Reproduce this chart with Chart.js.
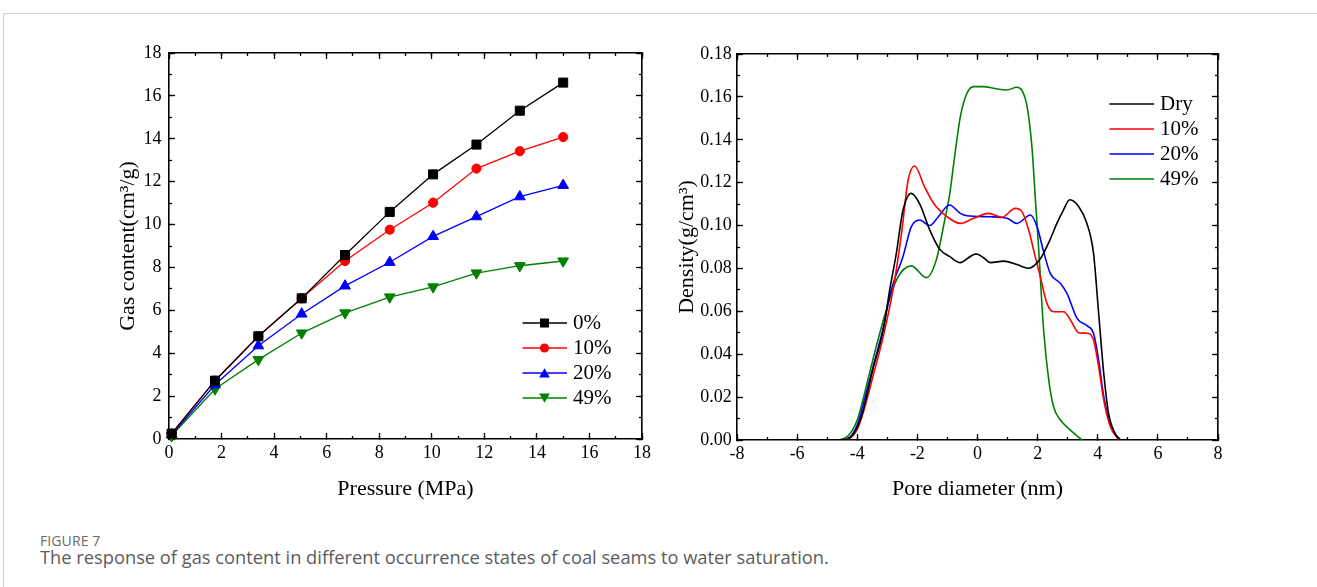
<!DOCTYPE html>
<html>
<head>
<meta charset="utf-8">
<script src="https://cdn.jsdelivr.net/npm/chart.js@4.4.1/dist/chart.umd.min.js"></script>
<style>
html,body{margin:0;padding:0;background:#fff;}
body{width:1317px;height:587px;overflow:hidden;position:relative;}
#frame{position:absolute;left:3px;top:13px;width:1320px;height:600px;border-top:1px solid #d0d0d0;border-left:1px solid #d0d0d0;}
#c1{position:absolute;left:0;top:0;}
#c2{position:absolute;left:660px;top:0;}
#fig{position:absolute;left:40px;top:533px;font-family:"Open Sans",sans-serif;font-size:14px;line-height:16px;color:#6a6a6a;letter-spacing:0.1px;}
#cap{position:absolute;left:40px;top:546px;font-family:"Open Sans",sans-serif;font-size:18.3px;line-height:22px;color:#5c5c5c;}
</style>
</head>
<body>
<div id="frame"></div>
<canvas id="c1" width="660" height="520"></canvas>
<canvas id="c2" width="657" height="520"></canvas>
<div id="fig">FIGURE 7</div>
<div id="cap">The response of gas content in different occurrence states of coal seams to water saturation.</div>
<script>
// ---------- Left chart data ----------
const pressure = [0.1, 1.75, 3.4, 5.05, 6.7, 8.4, 10.05, 11.7, 13.35, 15.0];
const gas0  = [0.25, 2.72, 4.79, 6.56, 8.58, 10.59, 12.34, 13.73, 15.31, 16.62];
const gas10 = [0.25, 2.72, 4.79, 6.56, 8.30, 9.76, 11.02, 12.61, 13.42, 14.08];
const gas20 = [0.20, 2.53, 4.35, 5.83, 7.14, 8.24, 9.45, 10.37, 11.30, 11.83];
const gas49 = [0.15, 2.33, 3.70, 4.94, 5.88, 6.62, 7.09, 7.74, 8.08, 8.30];
const leftLabels = ['0%', '10%', '20%', '49%'];

// ---------- Right chart data ----------
const dryX = [-4.6,-4.3,-4.0,-3.8,-3.48,-3.14,-2.92,-2.7,-2.48,-2.2,-1.92,-1.59,-1.26,-0.92,-0.57,-0.3,-0.05,0.2,0.43,0.87,1.31,1.7,2.09,2.4,2.64,2.85,3.07,3.37,3.64,3.86,4.03,4.2,4.36,4.58,4.75];
const dryY = [0,0.0005,0.006,0.014,0.033,0.051,0.070,0.087,0.107,0.115,0.110,0.098,0.089,0.0855,0.0827,0.085,0.0868,0.085,0.0827,0.0834,0.0818,0.0801,0.0845,0.093,0.101,0.107,0.112,0.1088,0.101,0.087,0.059,0.031,0.0124,0.003,0];
const tenX = [-4.6,-4.3,-4.0,-3.81,-3.48,-3.14,-2.81,-2.53,-2.31,-2.09,-1.76,-1.46,-1.0,-0.57,-0.13,0.37,0.815,1.26,1.48,1.7,1.92,2.09,2.31,2.53,2.87,3.09,3.37,3.7,3.86,4.03,4.2,4.42,4.7];
const tenY = [0,0.0005,0.005,0.0124,0.0295,0.048,0.070,0.096,0.121,0.1278,0.118,0.1104,0.104,0.101,0.1034,0.1057,0.1039,0.108,0.1065,0.098,0.0855,0.0761,0.0637,0.0598,0.0598,0.056,0.050,0.0497,0.0466,0.0342,0.0186,0.0062,0];
const twentyX = [-4.6,-4.3,-4.0,-3.7,-3.4,-3.14,-2.87,-2.48,-2.2,-1.92,-1.59,-1.31,-0.93,-0.57,-0.35,0.43,0.98,1.31,1.76,1.98,2.2,2.42,2.76,2.98,3.31,3.64,3.86,4.03,4.2,4.47,4.75];
const twentyY = [0,0.0008,0.007,0.022,0.038,0.052,0.070,0.0855,0.0995,0.1026,0.100,0.104,0.1096,0.1057,0.1046,0.1041,0.1034,0.101,0.1049,0.0995,0.0878,0.0777,0.073,0.0683,0.0567,0.0533,0.0497,0.0373,0.0202,0.0054,0];
const fortyNineX = [-4.6,-4.3,-4.0,-3.7,-3.37,-3.03,-2.7,-2.2,-1.7,-1.37,-1.09,-0.92,-0.79,-0.57,-0.35,-0.13,0.2,0.54,0.98,1.31,1.48,1.65,1.81,1.92,2.03,2.2,2.37,2.53,2.76,3.09,3.48];
const fortyNineY = [0,0.002,0.0093,0.025,0.0435,0.0607,0.0746,0.0812,0.0757,0.084,0.1026,0.115,0.129,0.1508,0.1617,0.1648,0.1648,0.164,0.1632,0.1645,0.163,0.1555,0.1368,0.1135,0.0902,0.0512,0.0279,0.0155,0.0093,0.0046,0];
const rightLabels = ['Dry', '10%', '20%', '49%'];

const COLORS = ['#000000', '#ff0000', '#0000ff', '#008000'];
const SERIF = "'Liberation Serif', 'Times New Roman', serif";

function pts(xs, ys) { return xs.map((x, i) => ({x: x, y: ys[i]})); }

function boxScales(o) {
  const tickFont = {family: SERIF, size: 18};
  const bw = 1.6, tw = 1.3;
  const majorGrid = {drawOnChartArea: false, tickLength: -6, tickColor: '#000', tickWidth: tw};
  const minorGrid = {drawOnChartArea: false, tickLength: -3, tickColor: '#000', tickWidth: tw};
  const hidden = (step) => ({display: false, stepSize: step});
  return {
    x: {type: 'linear', position: 'bottom', weight: 1, min: o.xmin, max: o.xmax,
        ticks: {stepSize: o.xstep, padding: 9, font: tickFont, color: '#000', autoSkip: false, maxRotation: 0,
                callback: (v) => o.xfmt(v)},
        grid: majorGrid, border: {display: true, color: '#000', width: bw},
        title: {display: true, text: o.xtitle, font: {family: SERIF, size: 22}, color: '#000', padding: {top: 0, bottom: 17.8}},
        afterFit: (s) => { s.height = o.xh; }},
    xm: {type: 'linear', position: 'bottom', weight: 0, min: o.xmin, max: o.xmax,
         ticks: hidden(o.xstep / 2), grid: minorGrid, border: {display: false},
         afterFit: (s) => { s.height = 0; }},
    xt: {type: 'linear', position: 'top', weight: 1, min: o.xmin, max: o.xmax,
         ticks: hidden(o.xstep), grid: majorGrid, border: {display: true, color: '#000', width: bw},
         afterFit: (s) => { s.height = 0; }},
    xtm: {type: 'linear', position: 'top', weight: 0, min: o.xmin, max: o.xmax,
          ticks: hidden(o.xstep / 2), grid: minorGrid, border: {display: false},
          afterFit: (s) => { s.height = 0; }},
    y: {type: 'linear', position: 'left', weight: 1, min: o.ymin, max: o.ymax,
        ticks: {stepSize: o.ystep, padding: o.ypad, font: tickFont, color: '#000', autoSkip: false,
                callback: (v) => o.yfmt(v)},
        grid: majorGrid, border: {display: true, color: '#000', width: bw},
        title: {display: true, text: o.ytitle, font: {family: SERIF, size: 22}, color: '#000', padding: {top: o.ytp, bottom: 0}},
        afterFit: (s) => { s.width = o.yw; }},
    ym: {type: 'linear', position: 'left', weight: 0, min: o.ymin, max: o.ymax,
         ticks: hidden(o.ystep / 2), grid: minorGrid, border: {display: false},
         afterFit: (s) => { s.width = 0; }},
    yr: {type: 'linear', position: 'right', weight: 1, min: o.ymin, max: o.ymax,
         ticks: hidden(o.ystep), grid: majorGrid, border: {display: true, color: '#000', width: bw},
         afterFit: (s) => { s.width = 0; }},
    yrm: {type: 'linear', position: 'right', weight: 0, min: o.ymin, max: o.ymax,
          ticks: hidden(o.ystep / 2), grid: minorGrid, border: {display: false},
          afterFit: (s) => { s.width = 0; }}
  };
}

function legendIcon(color, shape) {
  const c = document.createElement('canvas');
  c.width = 45; c.height = 14;
  const g = c.getContext('2d');
  g.strokeStyle = color; g.lineWidth = shape ? 1.3 : 1.5;
  g.beginPath(); g.moveTo(0, 7); g.lineTo(45, 7); g.stroke();
  g.fillStyle = color;
  if (shape === 'rect') { g.fillRect(18, 2.5, 9, 9); }
  else if (shape === 'circle') { g.beginPath(); g.arc(22.5, 7, 4.6, 0, Math.PI * 2); g.fill(); }
  else if (shape === 'up') { const r = 6.2; g.beginPath(); g.moveTo(22.5, 7 - r + 1.5); g.lineTo(22.5 + r * 0.866, 7 + r / 2 + 1.5); g.lineTo(22.5 - r * 0.866, 7 + r / 2 + 1.5); g.closePath(); g.fill(); }
  else if (shape === 'down') { const r = 6.2; g.beginPath(); g.moveTo(22.5, 7 + r - 1.5); g.lineTo(22.5 + r * 0.866, 7 - r / 2 - 1.5); g.lineTo(22.5 - r * 0.866, 7 - r / 2 - 1.5); g.closePath(); g.fill(); }
  return c;
}

function legendPlacer(x, y) {
  return {
    id: 'legendPlacer',
    afterLayout(chart) {
      const L = chart.legend;
      if (!L) return;
      const w = L.width, h = L.height;
      L.left = x; L.top = y; L.right = x + w; L.bottom = y + Math.max(h, 300);
    }
  };
}

function legendOpts(icons) {
  return {
    display: true, position: 'chartArea', align: 'start',
    labels: {
      usePointStyle: true, pointStyleWidth: 36, padding: 4,
      font: {family: SERIF, size: 21}, color: '#000',
      generateLabels: (chart) => chart.data.datasets.map((d, i) => ({
        text: d.label, pointStyle: icons[i], fontColor: '#000', hidden: false,
        datasetIndex: i, lineWidth: 0, strokeStyle: 'rgba(0,0,0,0)', fillStyle: 'rgba(0,0,0,0)'
      }))
    }
  };
}

// ---------- Left chart ----------
const leftSeries = [gas0, gas10, gas20, gas49];
const leftStyles = [
  {pointStyle: 'rect', radius: 6.4, rot: 0},
  {pointStyle: 'circle', radius: 4.6, rot: 0},
  {pointStyle: 'triangle', radius: 6.2, rot: 0},
  {pointStyle: 'triangle', radius: 6.2, rot: 180}
];
new Chart(document.getElementById('c1'), {
  type: 'line',
  data: {
    datasets: leftSeries.map((s, i) => ({
      label: leftLabels[i], data: pts(pressure, s),
      borderColor: COLORS[i], backgroundColor: COLORS[i], borderWidth: 1.3,
      pointStyle: leftStyles[i].pointStyle, pointRadius: leftStyles[i].radius, pointRotation: leftStyles[i].rot,
      pointBackgroundColor: COLORS[i], pointBorderColor: COLORS[i], pointBorderWidth: 1,
      tension: 0, clip: false, xAxisID: 'x', yAxisID: 'y'
    }))
  },
  options: {
    responsive: false, animation: false, devicePixelRatio: 1,
    layout: {padding: {left: 0, right: 10, top: 53, bottom: 0}},
    plugins: {legend: legendOpts([legendIcon(COLORS[0], 'rect'), legendIcon(COLORS[1], 'circle'), legendIcon(COLORS[2], 'up'), legendIcon(COLORS[3], 'down')]), tooltip: {enabled: false}},
    scales: boxScales({xmin: 0, xmax: 18, xstep: 2, xfmt: (v) => String(v), xtitle: 'Pressure (MPa)', xh: 81,
                       ymin: 0, ymax: 18, ystep: 2, yfmt: (v) => String(v), ytitle: 'Gas content(cm³/g)', yw: 169, ypad: 13.5, ytp: 114.8})
  },
  plugins: [legendPlacer(523 - 5 + 4.5, 308.5)]
});

// ---------- Right chart ----------
const rightX = [dryX, tenX, twentyX, fortyNineX];
const rightY = [dryY, tenY, twentyY, fortyNineY];
new Chart(document.getElementById('c2'), {
  type: 'line',
  data: {
    datasets: rightX.map((xs, i) => ({
      label: rightLabels[i], data: pts(xs, rightY[i]),
      borderColor: COLORS[i], backgroundColor: COLORS[i], borderWidth: 1.6,
      pointRadius: 0, cubicInterpolationMode: 'monotone', xAxisID: 'x', yAxisID: 'y'
    }))
  },
  options: {
    responsive: false, animation: false, devicePixelRatio: 1,
    layout: {padding: {left: 0, right: 99, top: 54, bottom: 0}},
    plugins: {legend: legendOpts(COLORS.map((c) => legendIcon(c, null))), tooltip: {enabled: false}},
    scales: boxScales({xmin: -8, xmax: 8, xstep: 2, xfmt: (v) => String(v), xtitle: 'Pore diameter (nm)', xh: 80,
                       ymin: 0, ymax: 0.18, ystep: 0.02, yfmt: (v) => v.toFixed(2), ytitle: 'Density(g/cm³)', yw: 77, ypad: 11.3, ytp: 13.8})
  },
  plugins: [legendPlacer(450 - 5 + 4.5, 89.5)]
});
</script>
</body>
</html>
